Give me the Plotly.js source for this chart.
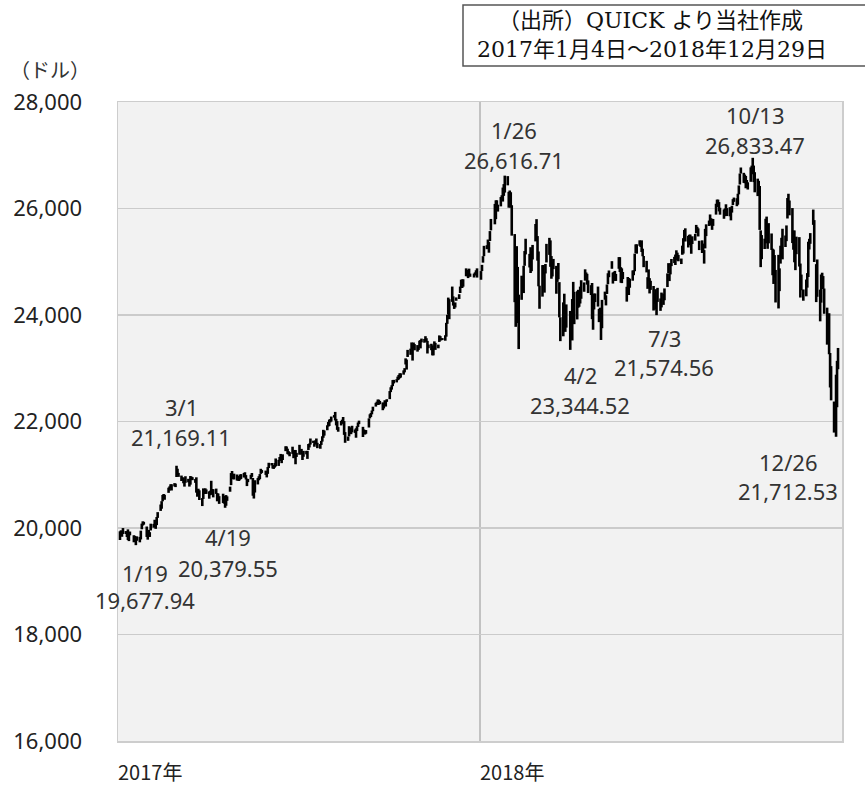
<!DOCTYPE html>
<html>
<head>
<meta charset="utf-8">
<script src="https://cdn.plot.ly/plotly-3.0.1.min.js"></script>
<style>html,body{margin:0;padding:0;background:#fff;}#chart{width:865px;height:788px;}</style>
</head>
<body>
<div id="chart"></div>
<script>
// Daily high / low of the index (dollars), trading days as MM-DD
const dates2017 = [
'01-03','01-04','01-05','01-06','01-09','01-10','01-11','01-12','01-13','01-17','01-18','01-19','01-20','01-23','01-24','01-25','01-26','01-27','01-30','01-31',
'02-01','02-02','02-03','02-06','02-07','02-08','02-09','02-10','02-13','02-14','02-15','02-16','02-17','02-21','02-22','02-23','02-24','02-27','02-28',
'03-01','03-02','03-03','03-06','03-07','03-08','03-09','03-10','03-13','03-14','03-15','03-16','03-17','03-20','03-21','03-22','03-23','03-24','03-27','03-28','03-29','03-30','03-31',
'04-03','04-04','04-05','04-06','04-07','04-10','04-11','04-12','04-13','04-17','04-18','04-19','04-20','04-21','04-24','04-25','04-26','04-27','04-28',
'05-01','05-02','05-03','05-04','05-05','05-08','05-09','05-10','05-11','05-12','05-15','05-16','05-17','05-18','05-19','05-22','05-23','05-24','05-25','05-26','05-30','05-31',
'06-01','06-02','06-05','06-06','06-07','06-08','06-09','06-12','06-13','06-14','06-15','06-16','06-19','06-20','06-21','06-22','06-23','06-26','06-27','06-28','06-29','06-30',
'07-03','07-05','07-06','07-07','07-10','07-11','07-12','07-13','07-14','07-17','07-18','07-19','07-20','07-21','07-24','07-25','07-26','07-27','07-28','07-31',
'08-01','08-02','08-03','08-04','08-07','08-08','08-09','08-10','08-11','08-14','08-15','08-16','08-17','08-18','08-21','08-22','08-23','08-24','08-25','08-28','08-29','08-30','08-31',
'09-01','09-05','09-06','09-07','09-08','09-11','09-12','09-13','09-14','09-15','09-18','09-19','09-20','09-21','09-22','09-25','09-26','09-27','09-28','09-29',
'10-02','10-03','10-04','10-05','10-06','10-09','10-10','10-11','10-12','10-13','10-16','10-17','10-18','10-19','10-20','10-23','10-24','10-25','10-26','10-27','10-30','10-31',
'11-01','11-02','11-03','11-06','11-07','11-08','11-09','11-10','11-13','11-14','11-15','11-16','11-17','11-20','11-21','11-22','11-24','11-27','11-28','11-29','11-30',
'12-01','12-04','12-05','12-06','12-07','12-08','12-11','12-12','12-13','12-14','12-15','12-18','12-19','12-20','12-21','12-22','12-26','12-27','12-28','12-29'
];
const high2017 = [
19938,19957,19924,19999,19943,19923,19974,19929,19933,19864,19852,19833,19843,19833,19950,20082,20125,20116,20028,19932,
19967,19922,20081,20078,20155,20081,20206,20298,20441,20504,20620,20639,20624,20757,20781,20821,20822,20842,20834,
21169,21113,21035,20985,20954,20945,20892,20972,20924,20881,20976,20965,20955,20919,20952,20686,20738,20708,20562,20744,20710,20746,20724,
20688,20702,20887,20732,20729,20740,20656,20648,20598,20644,20605,20590,20618,20594,20777,21032,21071,20995,21020,
21005,20963,20976,21003,21012,21033,21047,20993,20927,20921,20999,21033,20940,20719,20897,20938,20972,21013,21112,21088,21078,21052,
21144,21225,21221,21181,21182,21220,21306,21280,21333,21391,21360,21384,21535,21531,21489,21443,21425,21527,21451,21466,21464,21411,
21562,21486,21404,21449,21448,21449,21577,21587,21681,21640,21593,21645,21681,21600,21577,21636,21723,21844,21830,21929,
21990,22036,22044,22093,22121,22180,22049,22008,21895,22011,22034,22085,22008,21801,21718,21912,21859,21890,21920,21850,21873,21912,21981,
22016,21900,21851,21840,21839,22059,22136,22160,22207,22278,22351,22372,22413,22409,22385,22359,22342,22399,22385,22419,
22571,22643,22681,22778,22782,22795,22842,22873,22905,22905,22960,23002,23186,23163,23345,23368,23485,23443,23483,23453,23435,23408,
23517,23531,23557,23550,23602,23564,23514,23446,23460,23430,23379,23505,23476,23444,23617,23603,23567,23620,23853,24004,24327,
24297,24534,24350,24222,24236,24330,24390,24534,24663,24668,24671,24876,24828,24850,24871,24778,24778,24801,24840,24876
];
const low2017 = [
19775,19878,19835,19888,19887,19831,19775,19754,19863,19732,19755,19678,19760,19731,19785,19976,20047,20063,19832,19781,
19839,19832,19954,20005,20071,19984,20054,20190,20321,20362,20501,20555,20530,20660,20704,20755,20704,20781,20768,
20958,20996,20960,20882,20897,20840,20777,20849,20857,20778,20814,20913,20898,20848,20664,20587,20629,20526,20412,20546,20639,20644,20640,
20550,20616,20636,20624,20575,20640,20501,20574,20453,20470,20457,20380,20418,20510,20681,20805,20960,20917,20912,
20891,20890,20882,20906,20921,20949,20951,20911,20787,20861,20914,20960,20606,20553,20666,20818,20896,20916,21016,21035,20997,20950,
21017,21126,21174,21116,21110,21134,21157,21166,21259,21284,21218,21277,21443,21463,21388,21378,21347,21392,21311,21330,21197,21334,
21376,21380,21277,21338,21383,21298,21465,21513,21567,21597,21526,21578,21566,21499,21488,21560,21623,21694,21735,21836,
21904,21916,21984,22000,22074,22019,21927,21843,21808,21926,21956,21972,21749,21600,21637,21720,21773,21762,21797,21786,21695,21820,21898,
21951,21709,21768,21754,21769,21887,22059,22085,22135,22193,22280,22325,22311,22315,22326,22212,22245,22290,22281,22369,
22420,22552,22599,22664,22715,22734,22776,22788,22811,22824,22879,22923,23071,22975,23212,23252,23362,23144,23373,23337,23312,23342,
23404,23373,23486,23479,23506,23497,23277,23377,23339,23242,23242,23357,23345,23375,23494,23518,23528,23517,23593,23834,24007,
23921,24247,24177,24114,24142,24267,24301,24413,24513,24507,24532,24728,24728,24693,24744,24717,24704,24741,24781,24703
];
const dates2018 = [
'01-02','01-03','01-04','01-05','01-08','01-09','01-10','01-11','01-12','01-16','01-17','01-18','01-19','01-22','01-23','01-24','01-25','01-26','01-29','01-30','01-31',
'02-01','02-02','02-05','02-06','02-07','02-08','02-09','02-12','02-13','02-14','02-15','02-16','02-20','02-21','02-22','02-23','02-26','02-27','02-28',
'03-01','03-02','03-05','03-06','03-07','03-08','03-09','03-12','03-13','03-14','03-15','03-16','03-19','03-20','03-21','03-22','03-23','03-26','03-27','03-28','03-29',
'04-02','04-03','04-04','04-05','04-06','04-09','04-10','04-11','04-12','04-13','04-16','04-17','04-18','04-19','04-20','04-23','04-24','04-25','04-26','04-27','04-30',
'05-01','05-02','05-03','05-04','05-07','05-08','05-09','05-10','05-11','05-14','05-15','05-16','05-17','05-18','05-21','05-22','05-23','05-24','05-25','05-29','05-30','05-31',
'06-01','06-04','06-05','06-06','06-07','06-08','06-11','06-12','06-13','06-14','06-15','06-18','06-19','06-20','06-21','06-22','06-25','06-26','06-27','06-28','06-29',
'07-02','07-03','07-05','07-06','07-09','07-10','07-11','07-12','07-13','07-16','07-17','07-18','07-19','07-20','07-23','07-24','07-25','07-26','07-27','07-30','07-31',
'08-01','08-02','08-03','08-06','08-07','08-08','08-09','08-10','08-13','08-14','08-15','08-16','08-17','08-20','08-21','08-22','08-23','08-24','08-27','08-28','08-29','08-30','08-31',
'09-04','09-05','09-06','09-07','09-10','09-11','09-12','09-13','09-14','09-17','09-18','09-19','09-20','09-21','09-24','09-25','09-26','09-27','09-28',
'10-01','10-02','10-03','10-04','10-05','10-08','10-09','10-10','10-11','10-12','10-15','10-16','10-17','10-18','10-19','10-22','10-23','10-24','10-25','10-26','10-29','10-30','10-31',
'11-01','11-02','11-05','11-06','11-07','11-08','11-09','11-12','11-13','11-14','11-15','11-16','11-19','11-20','11-21','11-23','11-26','11-27','11-28','11-29','11-30',
'12-03','12-04','12-06','12-07','12-10','12-11','12-12','12-13','12-14','12-17','12-18','12-19','12-20','12-21','12-24','12-26','12-27','12-28'
];
const high2018 = [
24825,24942,25105,25299,25311,25417,25370,25576,25804,26086,26154,26154,26072,26215,26249,26393,26458,26617,26608,26313,26338,
26306,26062,25520,24946,25293,24903,24382,24738,24667,24924,25201,25432,25148,25273,25205,25316,25709,25800,25482,
25193,24550,24937,24939,24811,24958,25336,25449,25401,25107,25000,25053,24923,24807,24977,24617,23958,24237,24400,24002,24199,
24076,24061,24300,24622,24434,24446,24473,24358,24533,24653,24612,24858,24799,24774,24650,24560,24601,24117,24403,24403,24534,
24113,24138,23930,24284,24439,24370,24573,24784,24836,25011,24797,24809,24828,24772,25087,25086,24898,24876,24808,24530,24714,24695,
24681,24837,24839,25152,25326,25328,25403,25359,25402,25245,25108,25017,24710,24856,24692,24642,24545,24405,24485,24276,24510,
24311,24421,24401,24499,24781,24974,24777,24973,25052,25092,25135,25215,25171,25128,25060,25302,25443,25598,25628,25487,25507,
25511,25357,25478,25524,25692,25656,25627,25394,25402,25341,25219,25618,25703,25774,25888,25818,25778,25804,26089,26167,26167,26121,26014,
25982,26002,26079,26008,26025,25996,26052,26175,26205,26193,26277,26433,26657,26770,26670,26637,26611,26535,26492,
26773,26805,26952,26806,26682,26561,26520,26423,25589,25501,25433,25807,25848,25702,25725,25531,25246,25229,25125,24846,25130,24876,25301,
25450,25620,25493,25682,26197,26277,26150,26008,25584,25588,25325,25471,25462,24966,24759,24480,24666,24787,25376,25431,25538,
25980,25782,24955,25043,24476,24761,24794,24731,24497,24138,23836,24033,23287,23040,22375,22879,23139,23381
];
const low2018 = [
24662,24825,24983,25105,25236,25292,25170,25388,25589,25703,25800,25961,25942,26040,26161,26130,26237,26299,26435,26015,26041,
26014,25490,24241,23778,24853,23849,23360,24285,24421,24412,24924,25138,24893,24789,24823,25043,25382,25393,25020,
24539,24117,24345,24762,24420,24780,24987,25129,24905,24681,24724,24862,24399,24622,24671,23955,23509,23600,23777,23683,23763,
23345,23645,23522,24255,23828,23917,24135,24154,24216,24305,24436,24645,24691,24570,24412,24376,23922,23723,24104,24243,24158,
23866,23917,23531,23752,24287,24180,24395,24578,24710,24868,24590,24676,24640,24640,24868,24808,24606,24599,24674,24251,24408,24376,
24512,24644,24747,24822,25161,25152,25300,25277,25183,25103,24898,24800,24491,24635,24405,24472,24084,24211,24101,23997,24246,
24078,24143,24190,24277,24525,24787,24637,24763,24918,24975,24939,25087,25024,25009,24957,25131,25153,25386,25381,25268,25356,
25310,25150,25333,25396,25534,25557,25475,25219,25164,25168,24965,25251,25482,25672,25757,25681,25599,25674,25885,26029,26046,25945,25884,
25807,25856,25937,25858,25853,25777,25923,26065,26125,26043,26071,26266,26450,26656,26481,26475,26380,26405,26356,
26501,26643,26782,26496,26304,26233,26387,25598,24899,25049,25239,25346,25493,25243,25346,25222,24747,24583,24702,24235,24123,24448,24965,
25073,25045,25277,25387,25812,26114,25872,25351,25226,24990,24842,25142,24910,24328,24465,24268,24351,24514,24714,25230,25337,
25693,24996,24242,24342,23881,24232,24497,24489,24023,23443,23540,23263,22639,22397,21792,21713,22268,22982
];

// Annotated points (text as in the chart)
const noteDates  = ['1/19','3/1','4/19','1/26','4/2','7/3','10/13','12/26'];
const noteValues = ['19,677.94','21,169.11','20,379.55','26,616.71','23,344.52','21,574.56','26,833.47','21,712.53'];
const yearLabels = ['2017年','2018年'];
const yearStarts = ['2017-01-01','2018-01-01'];
const unitLabel = '（ドル）';
const sourceLines = ['（出所）QUICK より当社作成','2017年1月4日〜2018年12月29日'];

// build high-low bars
const xs = [], ys = [];
function addYear(year, d, h, l) {
  for (let i = 0; i < d.length; i++) {
    const t = year + '-' + d[i];
    xs.push(t, t, null);
    ys.push(l[i], h[i], null);
  }
}
addYear('2017', dates2017, high2017, low2017);
addYear('2018', dates2018, high2018, low2018);

// pixel -> paper helpers (layout only)
const L = 118, R = 842, T = 102, B = 741;
const px = x => (x - L) / (R - L);
const py = y => (B - y) / (B - T);

const labelFont = {family: 'Noto Sans, Open Sans, sans-serif', size: 22, color: '#333333'};
const notePos = [[145,573,600],[181,407,437],[228,537,568],[514,130,160],[580,375,405],[664,338,367],[755,115,145],[788,462,491]];

const annotations = [];
noteDates.forEach((d, i) => {
  const p = notePos[i];
  annotations.push({xref:'paper', yref:'paper', x:px(p[0]), y:py(p[1]), text:d, showarrow:false, xanchor:'center', yanchor:'middle', font:labelFont});
  annotations.push({xref:'paper', yref:'paper', x:px(p[0]), y:py(p[2]), text:noteValues[i], showarrow:false, xanchor:'center', yanchor:'middle', font:labelFont});
});
yearLabels.forEach((t, i) => {
  annotations.push({xref:'x', yref:'paper', x:yearStarts[i], y:py(771), text:t, showarrow:false, xanchor:'left', yanchor:'middle', xshift:-2,
    font:{family:'Noto Sans CJK JP, sans-serif', size:20, color:'#222222'}});
});
annotations.push({xref:'paper', yref:'paper', x:px(50), y:py(70), text:unitLabel, showarrow:false, xanchor:'center', yanchor:'middle',
  font:{family:'Noto Sans CJK JP, sans-serif', size:20, color:'#333333'}});
const srcFont = {family:'DejaVu Serif, Noto Sans CJK JP, serif', size:22, color:'#111111'};
annotations.push({xref:'paper', yref:'paper', x:px(650), y:py(21), text:sourceLines[0], showarrow:false, xanchor:'center', yanchor:'middle', font:srcFont});
annotations.push({xref:'paper', yref:'paper', x:px(652), y:py(50), text:sourceLines[1], showarrow:false, xanchor:'center', yanchor:'middle', font:srcFont});

const shapes = [{type:'rect', xref:'paper', yref:'paper', x0:px(463), x1:px(872), y0:py(66), y1:py(5),
  line:{color:'#555555', width:1.5}, fillcolor:'#ffffff', layer:'below'}];

const trace = {x: xs, y: ys, type:'scatter', mode:'lines', line:{color:'#000000', width:2.6}, connectgaps:false, hoverinfo:'skip'};

const layout = {
  width:865, height:788,
  margin:{l:L, r:865-R, t:T, b:788-B, pad:0},
  paper_bgcolor:'#ffffff', plot_bgcolor:'#f2f2f2',
  showlegend:false,
  xaxis:{type:'date', range:['2017-01-01','2019-01-01'], tickvals:['2018-01-01'], showticklabels:false,
    showgrid:true, gridcolor:'#c2c2c2', gridwidth:2, zeroline:false, ticks:'',
    showline:true, mirror:true, linecolor:'#cdcdcd', linewidth:1.5},
  yaxis:{range:[16000,28000], tick0:16000, dtick:2000, tickformat:',d', showgrid:true, gridcolor:'#cbcbcb', gridwidth:1.5,
    zeroline:false, ticks:'', showline:true, mirror:true, linecolor:'#cdcdcd', linewidth:1.5,
    tickfont:{family:'Noto Sans, Open Sans, sans-serif', size:22, color:'#222222'}, ticklabelstandoff:30},
  annotations: annotations,
  shapes: shapes
};

Plotly.newPlot('chart', [trace], layout, {displayModeBar:false, staticPlot:true});
</script>
</body>
</html>
